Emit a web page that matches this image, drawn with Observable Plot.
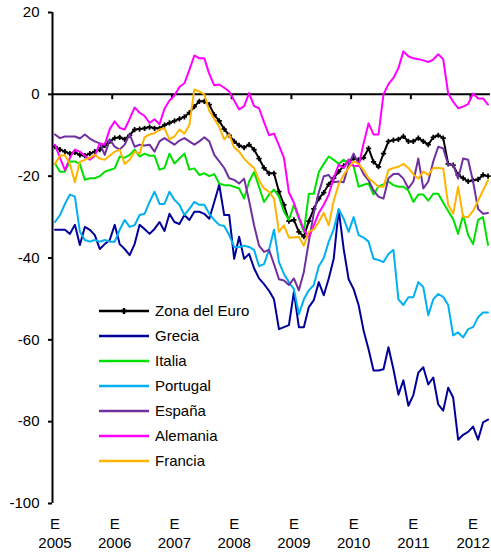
<!DOCTYPE html>
<html><head><meta charset="utf-8">
<script src="https://cdn.jsdelivr.net/npm/d3@7"></script>
<script src="https://cdn.jsdelivr.net/npm/@observablehq/plot@0.6"></script>
<style>
body{margin:0;background:#fff;}
#wrap{position:relative;width:491px;height:553px;font-family:"Liberation Sans",Arial,sans-serif;}
#legend{position:absolute;left:99px;top:298px;font-size:15px;color:#000;}
.row{display:flex;align-items:center;height:25px;white-space:nowrap;}
.row svg{margin-right:6px;display:block;}
</style></head><body><div id="wrap"></div>
<script>
const years = [2005, 2006, 2007, 2008, 2009, 2010, 2011, 2012];
const yTicks = [-100, -80, -60, -40, -20, 0, 20];
const seriesNames = ["Zona del Euro", "Grecia", "Italia", "Portugal", "España", "Alemania", "Francia"];
const seriesColors = ["#000000", "#000099", "#00E000", "#00B0F0", "#7030A0", "#FF00FF", "#FFB400"];

const zona = [-12.8,-13.5,-14,-14.5,-14.2,-14.8,-15,-14.5,-14,-13.5,
  -12.5,-11.5,-10.7,-10.5,-11,-10,-8.6,-8.5,-8.3,-8,
  -8.3,-8.3,-7.5,-7,-6.5,-6,-5.5,-4.5,-3,-1.7,
  -1.7,-2.5,-5,-6.5,-8.5,-10,-11.5,-12.5,-13,-12.3,
  -13.5,-15.7,-18,-19.3,-19.3,-23.8,-27,-31,-30.7,-33.6,
  -34.8,-31,-28,-25.5,-24,-22,-20.5,-18.9,-17.5,-16.4,
  -15.7,-16,-15.5,-13.2,-16.5,-17.7,-14.5,-11.5,-11.2,-11,
  -10.3,-11.5,-11.5,-10.7,-11.5,-12.3,-10.5,-10,-10.7,-17,
  -17.3,-19.7,-20.5,-21.3,-21,-20.8,-19.7,-20];
const grecia = [-33.1,-33.1,-33.1,-34.1,-31.9,-36.8,-32.4,-33.1,-34.4,-37.8,
  -36.6,-35.6,-31.9,-36.6,-37.8,-39.3,-36.6,-31.9,-32.9,-34.1,
  -32.9,-31.2,-33.4,-29.2,-31.2,-31.7,-29.5,-30.7,-28.7,-28.7,
  -29.2,-30.4,-26.3,-22.1,-29.5,-29.5,-40.2,-34.8,-40.2,-39,
  -42.5,-45,-46.4,-48,-50.1,-57.4,-56.9,-56.4,-48.3,-56.9,
  -56.9,-52,-50.3,-45.9,-49.1,-45,-40.2,-28.2,-37.8,-45.2,
  -47.6,-51.5,-57.7,-62.3,-67.5,-67.5,-67.2,-61.8,-67.2,-73.4,
  -69.9,-76.1,-73.5,-68,-66.7,-70.9,-69.2,-75.8,-77.3,-71.7,
  -74.1,-84.4,-83.2,-82.5,-81.2,-84.4,-80.2,-79.5];
const italia = [-16.9,-18.9,-18.9,-16.4,-16.4,-17,-20.9,-20.5,-20.5,-20,
  -18.9,-18.5,-18.1,-15.2,-15.5,-14.8,-13.5,-15.2,-14.5,-15,
  -15,-18.4,-18,-14.5,-16.9,-15.7,-14.5,-18.4,-18.1,-19.7,
  -19.3,-20,-19.5,-21.8,-22.2,-22.2,-22.6,-23,-25.5,-21.3,
  -19,-22.6,-26.3,-24.5,-23.3,-25,-28.7,-30.7,-27,-30.4,
  -33.6,-24.3,-24.3,-19,-17,-15.2,-16,-17,-16,-17,
  -17.5,-22.6,-22.1,-21.8,-24.5,-22.5,-22,-21.3,-22.2,-22.6,
  -22.6,-23.5,-26.3,-24.5,-24.5,-26,-24.3,-24.3,-26.5,-28.5,
  -30.5,-34.1,-29.5,-34.4,-36.6,-30.7,-30,-36.8];
const portugal = [-31.2,-29.5,-26.8,-24.5,-25,-33.6,-35.6,-36,-35.6,-36,
  -35.6,-36,-36,-33.1,-30.7,-32.4,-32,-29.5,-29.2,-26.3,
  -23.8,-26.8,-26.8,-23.8,-25.8,-27,-29.5,-28,-26.3,-27,
  -27,-29.2,-30.7,-31.9,-32.2,-34.4,-37.3,-37.3,-37,-37.3,
  -38,-42,-41.5,-38,-33.1,-41,-43.9,-45.9,-47.6,-53.7,
  -50.1,-47.9,-46.6,-42,-40,-36,-33,-28,-30.4,-33.6,
  -30,-34.4,-35,-36,-40.2,-40.5,-41,-39,-38,-50.1,
  -51.5,-49.6,-49.6,-45.9,-47.1,-54,-50.1,-48.8,-49.5,-51.5,
  -58.9,-58.2,-59.4,-57.4,-56.9,-54.5,-53.3,-53.3];
const espana = [-9.8,-10.7,-10.3,-10.3,-10.3,-10.8,-9.8,-10.8,-11.5,-12,
  -14.8,-11,-12.8,-13.5,-12.3,-9.8,-12.8,-12.3,-12.5,-12.3,
  -14,-11.5,-10.7,-11.5,-12.3,-11.3,-10.7,-11.5,-12.3,-11.5,
  -10.5,-11.5,-14.8,-16.4,-18,-20.5,-20.9,-21.8,-20.6,-26,
  -32,-37,-38.5,-38,-41.5,-45.2,-45.5,-46.6,-45,-47.9,
  -43.4,-36,-29,-24,-20,-19.7,-21.5,-21.3,-21.5,-17.2,
  -14.5,-17,-19.5,-21,-23.5,-25,-25.5,-20.5,-19.5,-19.4,
  -20.6,-23,-21.3,-15.7,-23,-21.3,-16.4,-12.8,-13.2,-17.2,
  -17.2,-20.6,-15.7,-16,-21.3,-28,-29.2,-29];
const alemania = [-12.3,-15.5,-18.5,-15.5,-13.5,-14,-15,-16,-15,-12,
  -12.3,-8.5,-6.6,-8.2,-8.6,-6,-3.2,-4.5,-5.3,-7,
  -6.1,-7.3,-3.5,-1.5,-0.3,1.8,2.7,6,9.5,8.8,
  8.8,5,2.2,2.4,1.6,0.7,-1.5,-3.7,-2.9,0.3,
  -2.9,-3.4,-6.8,-10,-9.6,-12.5,-15.5,-24,-26.5,-30,
  -33,-35,-32,-29,-27,-24.5,-20.5,-17.2,-18,-16,
  -17.5,-17.5,-12,-7.1,-9.8,-9.8,0,2.5,4,6.4,
  10.5,9.3,8.8,8.6,8.3,7.9,8.5,9.8,8.6,0.2,
  -1.8,-3.4,-3,-2.4,0.2,-1,-1,-2.5];
const francia = [-17,-15,-14.8,-17,-21.5,-16.5,-16,-15.5,-14.8,-15.7,
  -16,-15,-14,-13.5,-17,-16,-14,-14.5,-10.5,-9.8,
  -9.5,-8.6,-8.3,-11,-10.3,-8.6,-9.6,-7.5,1.2,0.7,
  0,-4,-6,-8,-11,-9.8,-13,-14,-15.7,-17,
  -18,-21,-23,-23.8,-25.5,-33.6,-32,-35,-35,-34.8,
  -37,-33.6,-33,-31.2,-29,-32,-26,-22,-19.7,-18,
  -16.4,-17,-18.5,-20.5,-21.5,-22.6,-22.6,-18.5,-18,-17.7,
  -17,-18,-19.5,-20.6,-18.9,-19.7,-18,-18,-18.1,-27,
  -29.2,-22.6,-30,-30,-28.5,-26,-23.5,-21];

const seriesValues = [zona, grecia, italia, portugal, espana, alemania, francia];
const nMonths = zona.length;
const yearStarts = years.map((y, k) => k * 12);

const rows = [];
seriesNames.forEach((name, k) => {
  seriesValues[k].forEach((v, i) => rows.push({serie: name, m: i + 0.5, v}));
});
const zonaRows = rows.filter(d => d.serie === "Zona del Euro");
const otherRows = rows.filter(d => d.serie !== "Zona del Euro");

const chart = Plot.plot({
  width: 491,
  height: 553,
  marginLeft: 52,
  marginRight: 1,
  marginTop: 12,
  marginBottom: 50,
  style: {fontFamily: "Liberation Sans, Arial, sans-serif", fontSize: "15px", color: "#000", background: "#fff"},
  x: {domain: [0, nMonths]},
  y: {domain: [-100, 20]},
  color: {domain: seriesNames, range: seriesColors},
  marks: [
    Plot.axisY({ticks: yTicks, tickSize: 4, tickPadding: 9, strokeWidth: 2, tickFormat: d => String(d), label: null}),
    Plot.axisX({ticks: yearStarts.map(d => d + 0.5), tickSize: 0, tickPadding: 15, tickFormat: () => "E", label: null}),
    Plot.axisX({ticks: yearStarts.map(d => d + 0.5), tickSize: 0, tickPadding: 34, tickFormat: d => String(years[Math.floor(d / 12)]), label: null}),
    Plot.ruleX([0], {stroke: "#000", strokeWidth: 2}),
    Plot.ruleY([0], {stroke: "#000", strokeWidth: 2}),
    Plot.ruleX(yearStarts.slice(1), {x: d => d, y1: 0, y2: -1.3, stroke: "#000", strokeWidth: 2}),
    Plot.line(zonaRows, {x: "m", y: "v", stroke: "serie", strokeWidth: 2}),
    Plot.dot(zonaRows, {x: "m", y: "v", symbol: "cross", r: 2.2, fill: "#000"}),
    Plot.line(otherRows, {x: "m", y: "v", z: "serie", stroke: "serie", strokeWidth: 2})
  ]
});

const wrap = document.getElementById("wrap");
wrap.appendChild(chart);

const legend = document.createElement("div");
legend.id = "legend";
seriesNames.forEach((name, k) => {
  const row = document.createElement("div");
  row.className = "row";
  const marker = k === 0 ? `<path d="M22,10h6M25,7v6" stroke="#000" stroke-width="2.5"/>` : "";
  row.innerHTML = `<svg width="50" height="20"><line x1="0" x2="50" y1="10" y2="10" stroke="${seriesColors[k]}" stroke-width="2.5"/>${marker}</svg><span>${name}</span>`;
  legend.appendChild(row);
});
wrap.appendChild(legend);
</script>
</body></html>
